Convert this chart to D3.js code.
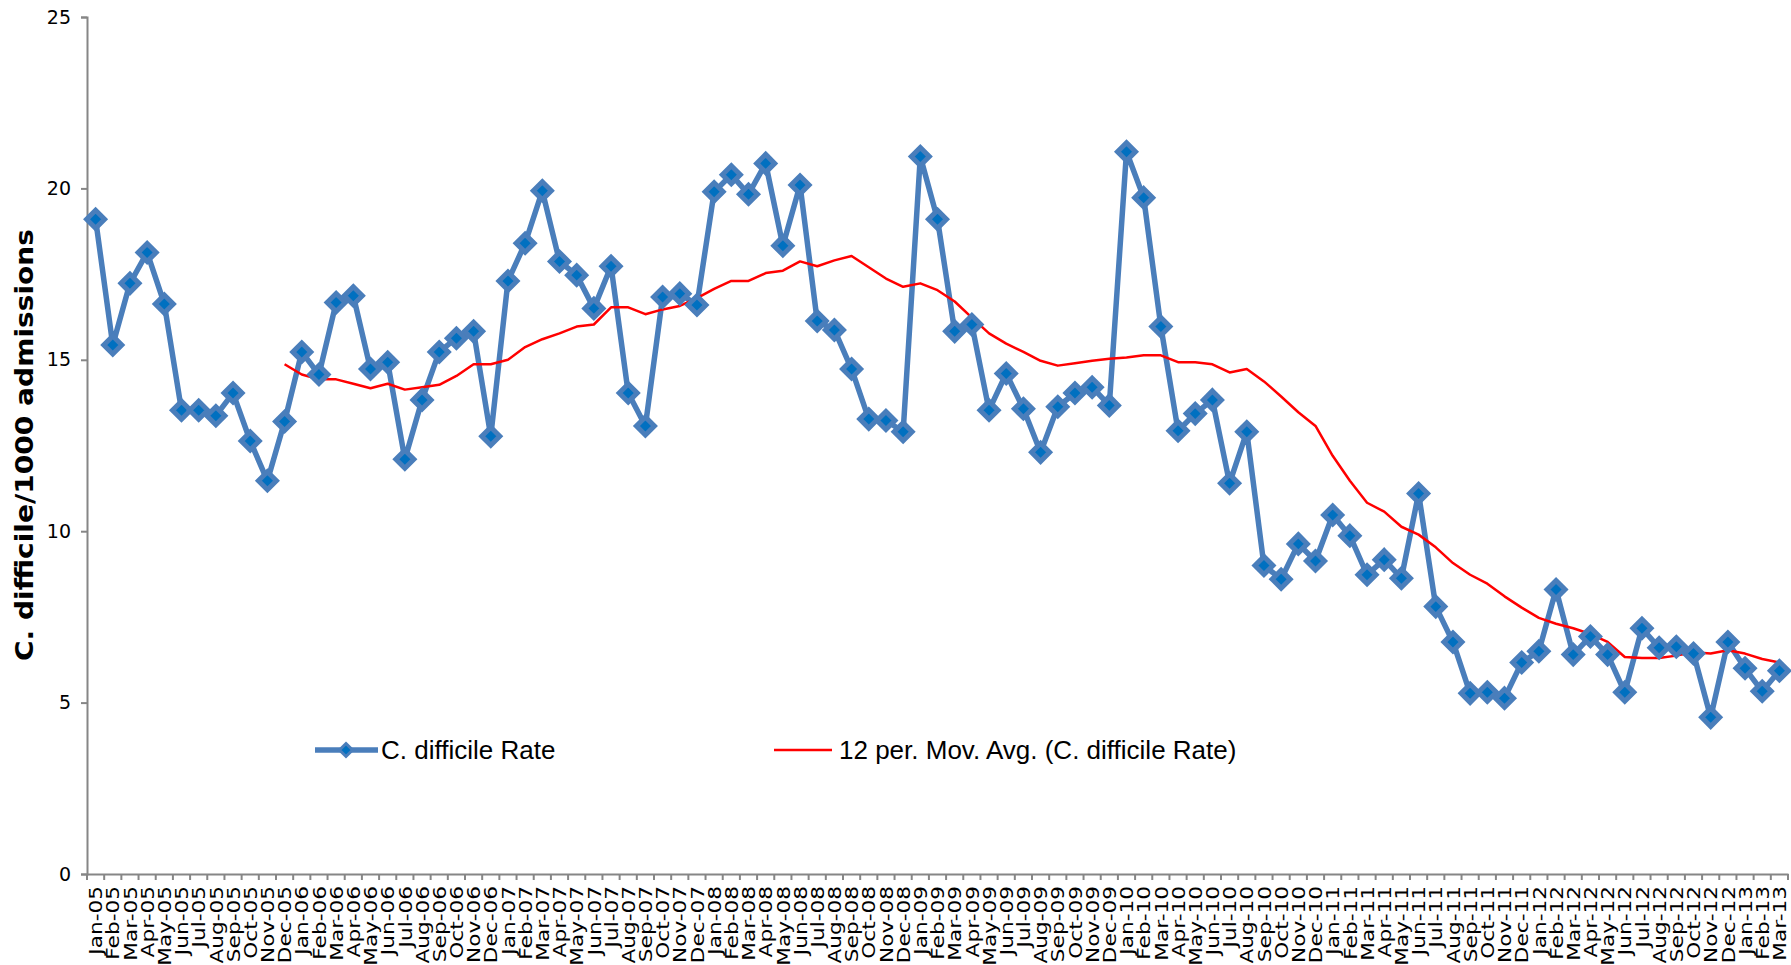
<!DOCTYPE html>
<html><head><meta charset="utf-8">
<script src="https://cdn.jsdelivr.net/npm/d3@7"></script>
<style>body{margin:0;background:#fff;} svg{display:block;}</style>
</head><body>
<svg id="chart" width="1791" height="965"></svg>
<script>
const months = ["Jan-05","Feb-05","Mar-05","Apr-05","May-05","Jun-05","Jul-05","Aug-05","Sep-05","Oct-05","Nov-05","Dec-05",
"Jan-06","Feb-06","Mar-06","Apr-06","May-06","Jun-06","Jul-06","Aug-06","Sep-06","Oct-06","Nov-06","Dec-06",
"Jan-07","Feb-07","Mar-07","Apr-07","May-07","Jun-07","Jul-07","Aug-07","Sep-07","Oct-07","Nov-07","Dec-07",
"Jan-08","Feb-08","Mar-08","Apr-08","May-08","Jun-08","Jul-08","Aug-08","Sep-08","Oct-08","Nov-08","Dec-08",
"Jan-09","Feb-09","Mar-09","Apr-09","May-09","Jun-09","Jul-09","Aug-09","Sep-09","Oct-09","Nov-09","Dec-09",
"Jan-10","Feb-10","Mar-10","Apr-10","May-10","Jun-10","Jul-10","Aug-10","Sep-10","Oct-10","Nov-10","Dec-10",
"Jan-11","Feb-11","Mar-11","Apr-11","May-11","Jun-11","Jul-11","Aug-11","Sep-11","Oct-11","Nov-11","Dec-11",
"Jan-12","Feb-12","Mar-12","Apr-12","May-12","Jun-12","Jul-12","Aug-12","Sep-12","Oct-12","Nov-12","Dec-12",
"Jan-13","Feb-13","Mar-13"];

const rate = [19.1,15.43,17.23,18.13,16.63,13.53,13.53,13.37,14.03,12.63,11.47,13.2,
15.23,14.57,16.67,16.87,14.73,14.93,12.1,13.83,15.23,15.63,15.83,12.77,
17.3,18.4,19.93,17.87,17.47,16.5,17.73,14.03,13.07,16.83,16.93,16.6,
19.9,20.4,19.83,20.73,18.33,20.1,16.13,15.87,14.73,13.27,13.23,12.9,
20.93,19.1,15.83,16.03,13.53,14.6,13.57,12.3,13.63,14.03,14.2,13.67,
21.07,19.73,15.97,12.93,13.43,13.83,11.4,12.9,9.0,8.6,9.63,9.13,
10.47,9.87,8.73,9.17,8.63,11.1,7.8,6.77,5.27,5.3,5.13,6.17,
6.5,8.3,6.4,6.93,6.4,5.3,7.17,6.6,6.63,6.43,4.57,6.77,
6.0,5.33,5.93];

// 12 per. moving average (starts at Dec-05)
const movAvgStart = "Dec-05";
const movAvg = [14.87,
14.57,14.43,14.43,14.3,14.17,14.3,14.13,14.2,14.27,14.53,14.87,14.87,
15.0,15.37,15.6,15.77,15.97,16.03,16.53,16.53,16.33,16.47,16.57,16.8,
17.07,17.3,17.3,17.53,17.6,17.87,17.73,17.9,18.03,17.7,17.37,17.13,
17.23,17.03,16.7,16.23,15.77,15.47,15.23,14.97,14.83,14.9,14.97,15.03,
15.07,15.13,15.13,14.93,14.93,14.87,14.63,14.73,14.37,13.93,13.47,13.07,
12.2,11.47,10.83,10.57,10.13,9.9,9.53,9.07,8.73,8.47,8.1,7.77,
7.47,7.3,7.17,7.0,6.77,6.33,6.3,6.3,6.37,6.47,6.43,6.53,
6.43,6.27,6.17];

const yTicks = [0,5,10,15,20,25];
const seriesNames = ["C. difficile Rate","12 per. Mov. Avg. (C. difficile Rate)"];
const yTitle = "C. difficile/1000 admissions";

const svg = d3.select("#chart");
const L = 87, R = 1788, T = 17, B = 874;
const x = d3.scaleBand().domain(months).range([L, R]).padding(0);
const y = d3.scaleLinear().domain([0, 25]).range([B, T]);
const cx = m => x(m) + x.bandwidth() / 2;
const axisColor = "#868686";
const blue = "#4A7EBB", blueFill = "#0070C0";

// Y axis
const yAxis = svg.append("g").attr("transform", `translate(${L},0)`)
  .call(d3.axisLeft(y).tickValues(yTicks).tickSize(6).tickPadding(10));
yAxis.select(".domain").attr("stroke", axisColor).attr("stroke-width", 2);
yAxis.selectAll(".tick line").attr("stroke", axisColor).attr("stroke-width", 2);
yAxis.selectAll("text").attr("font-family", "DejaVu Sans").attr("font-size", 19).attr("fill", "#000");

// X axis
const xAxis = svg.append("g").attr("transform", `translate(0,${B})`)
  .call(d3.axisBottom(x).tickSize(0).tickPadding(0));
xAxis.select(".domain").attr("stroke", axisColor).attr("stroke-width", 2);
xAxis.selectAll(".tick line").remove();
xAxis.selectAll("line.btick").data(d3.range(months.length + 1)).enter().append("line")
  .attr("class", "btick")
  .attr("x1", i => L + i * x.bandwidth()).attr("x2", i => L + i * x.bandwidth())
  .attr("y1", 0).attr("y2", 6).attr("stroke", axisColor).attr("stroke-width", 2);
xAxis.selectAll(".tick text")
  .attr("font-family", "DejaVu Sans").attr("font-size", 18.5).attr("fill", "#000")
  .attr("text-anchor", "end")
  .attr("transform", "translate(0,12) rotate(-90) scale(1.17,1)")
  .attr("x", 0).attr("y", 0).attr("dy", "0.36em");

// Y title
svg.append("text")
  .attr("transform", `translate(33,445) rotate(-90) scale(1.17,1)`)
  .attr("text-anchor", "middle")
  .attr("font-family", "DejaVu Sans").attr("font-weight", "bold").attr("font-size", 24)
  .text(yTitle);

// Rate line
const line = d3.line().x(d => cx(d.m)).y(d => y(d.v));
const rateData = months.map((m, i) => ({m, v: rate[i]}));
svg.append("path").datum(rateData).attr("d", line)
  .attr("fill", "none").attr("stroke", blue).attr("stroke-width", 5.5).attr("stroke-linejoin", "round");

// Moving avg
const s0 = months.indexOf(movAvgStart);
const maData = movAvg.map((v, i) => ({m: months[s0 + i], v}));
svg.append("path").datum(maData).attr("d", line)
  .attr("fill", "none").attr("stroke", "#FF0000").attr("stroke-width", 2.5).attr("stroke-linejoin", "round");

// Markers
const diamond = r => `M0,${-r}L${r},0L0,${r}L${-r},0Z`;
svg.append("g").selectAll("path").data(rateData).enter().append("path")
  .attr("transform", d => `translate(${cx(d.m)},${y(d.v)})`)
  .attr("d", diamond(9))
  .attr("fill", blueFill).attr("stroke", blue).attr("stroke-width", 5).attr("stroke-linejoin", "miter");

// Legend
const lg = svg.append("g");
const ly = 750;
lg.append("line").attr("x1", 315).attr("x2", 378).attr("y1", ly).attr("y2", ly)
  .attr("stroke", blue).attr("stroke-width", 5.5);
lg.append("path").attr("transform", `translate(346,${ly})`).attr("d", diamond(6.5))
  .attr("fill", blueFill).attr("stroke", blue).attr("stroke-width", 3);
lg.append("text").attr("x", 381).attr("y", ly).attr("dy", "0.36em")
  .attr("font-family", "Liberation Sans").attr("font-size", 26).text(seriesNames[0]);
lg.append("line").attr("x1", 774).attr("x2", 832).attr("y1", ly).attr("y2", ly)
  .attr("stroke", "#FF0000").attr("stroke-width", 2.5);
lg.append("text").attr("x", 839).attr("y", ly).attr("dy", "0.36em")
  .attr("font-family", "Liberation Sans").attr("font-size", 26).text(seriesNames[1]);
</script>
</body></html>
